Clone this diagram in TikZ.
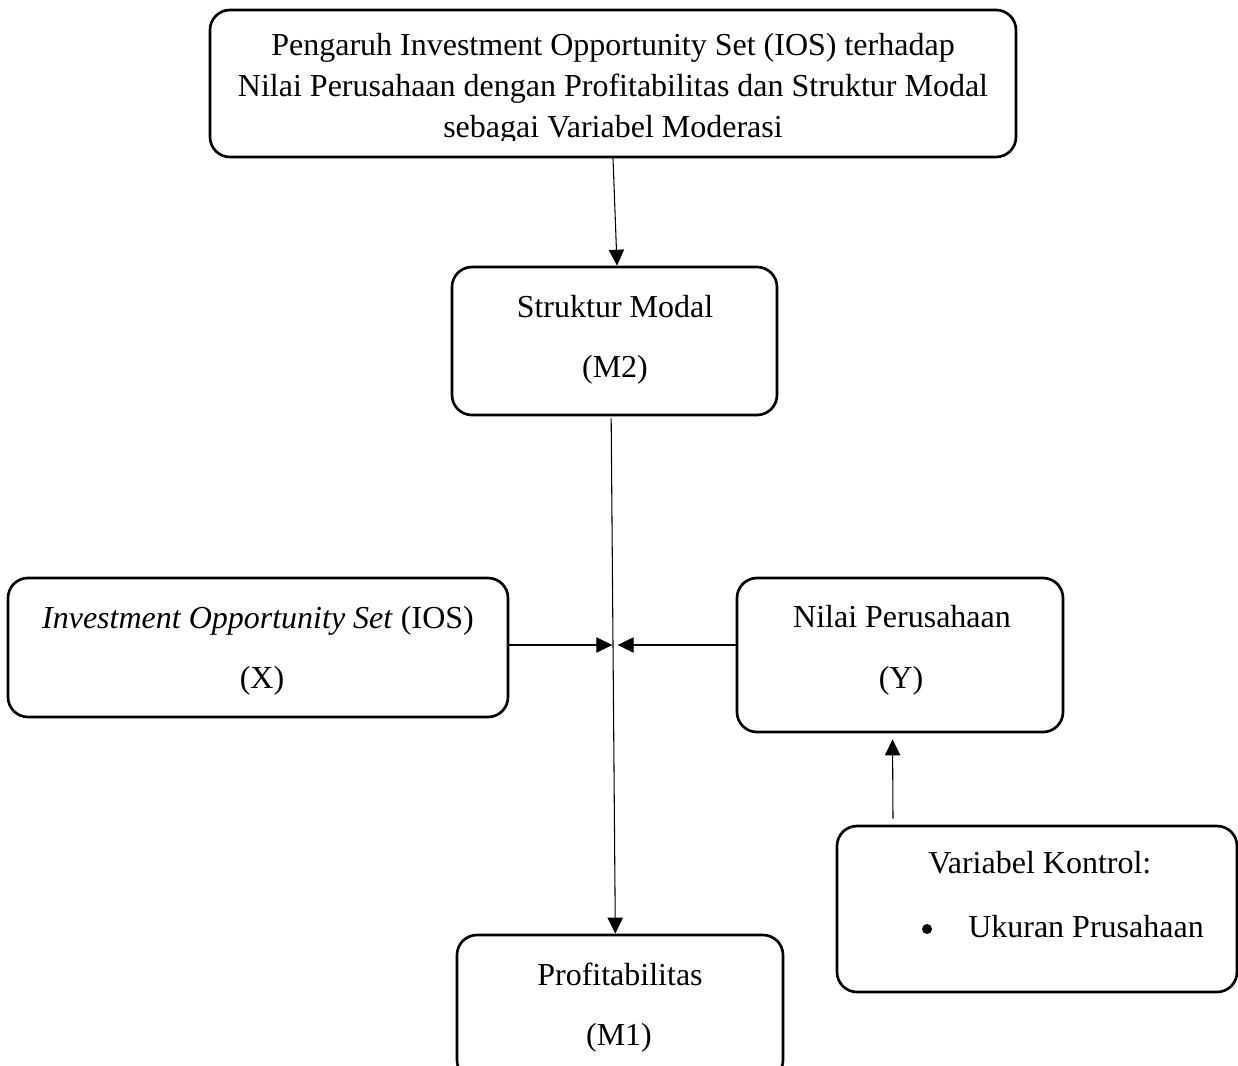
\documentclass[tikz,border=0pt]{standalone}
\usepackage{fontspec}
\setmainfont{Liberation Serif}
\usetikzlibrary{arrows.meta,calc}
\begin{document}
\begin{tikzpicture}[x=0.75pt,y=-0.75pt,
  box/.style={draw, line width=2pt, rounded corners=15pt, inner sep=0pt},
  lbl/.style={inner sep=0pt, anchor=base, font=\fontsize{24pt}{30pt}\selectfont},
  lblw/.style={lbl, anchor=base west},
  arr/.style={line width=0.8pt, -{Triangle[length=12pt,width=11.5pt]}}]
\useasboundingbox (0,0) rectangle (1238,1065);
\clip (0,0) rectangle (1238,1065);

% boxes
\node[box, minimum width=604.5pt, minimum height=110.25pt] (top) at (613,83.5) {};
\node[box, minimum width=243.75pt, minimum height=111pt] (sm) at (614.5,341) {};
\node[box, minimum width=375pt, minimum height=104.25pt] (ios) at (258,647.5) {};
\node[box, minimum width=244.5pt, minimum height=115.5pt] (nilai) at (900,655) {};
\node[box, minimum width=300pt, minimum height=124.5pt] (ctrl) at (1037,909) {};
\node[box, minimum width=244.5pt, minimum height=108.75pt] (prof) at (620,1007.5) {};

% texts
\begin{scope}
\clip (200,0) rectangle (1030,140);
\node[lbl] (t1) at (613,55) {Pengaruh Investment Opportunity Set (IOS) terhadap};
\node[lbl] (t2) at (613,96) {Nilai Perusahaan dengan Profitabilitas dan Struktur Modal};
\node[lbl] (t3) at (613,137) {sebagai Variabel Moderasi};
\end{scope}
\node[lbl] (sm1) at (615,317) {Struktur Modal};
\node[lbl] (sm2) at (615,377) {(M2)};
\node[lbl] (ios1) at (258,628) {\textit{Investment Opportunity Set} (IOS)};
\node[lbl] (ios2) at (262,688) {(X)};
\node[lbl] (n1) at (902,627) {Nilai Perusahaan};
\node[lbl] (n2) at (901,688) {(Y)};
\node[lblw] (c1) at (928,873) {Variabel Kontrol:};
\node[circle, fill, inner sep=0pt, minimum size=7.5pt] (c2) at (927,929) {};
\node[lblw] (c3) at (968,937) {Ukuran Prusahaan};
\node[lbl] (p1) at (620,985) {Profitabilitas};
\node[lbl] (p2) at (619,1045) {(M1)};

% connectors
\coordinate (mid) at (615,645);
\draw[arr] (top.south) -- ([xshift=1.9pt]sm.north);
\draw[arr] ([xshift=-2.5pt,yshift=-1.5pt]sm.south) -- ([xshift=-3.5pt]prof.north);
\draw[arr] (ios.east |- mid) -- ([xshift=-2pt]mid);
\draw[arr] (nilai.west |- mid) -- ([xshift=2pt]mid);
\draw[arr] ([xshift=-108pt,yshift=4.5pt]ctrl.north) -- ([xshift=-5.6pt,yshift=-4.5pt]nilai.south);
\end{tikzpicture}
\end{document}
